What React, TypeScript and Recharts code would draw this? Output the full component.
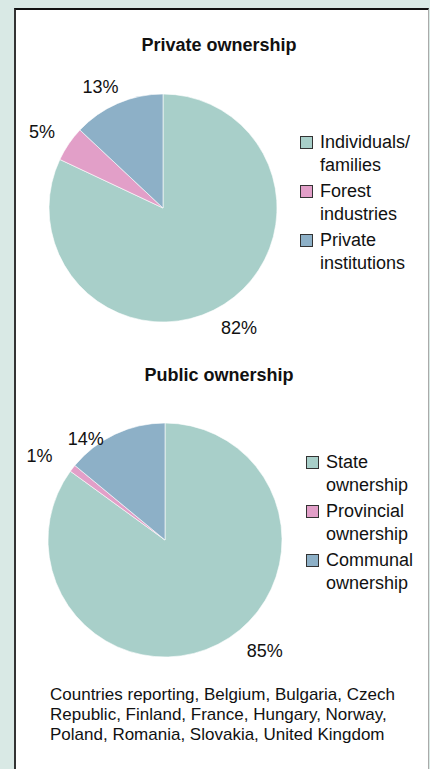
import React from "react";
import { Legend, Pie, PieChart, Cell } from "recharts";

const privateNames = ["Individuals/\nfamilies", "Forest\nindustries", "Private\ninstitutions"];
const privateValues = [82, 5, 13];

const publicNames = ["State\nownership", "Provincial\nownership", "Communal\nownership"];
const publicValues = [85, 1, 14];

const sliceColors = ["#a8cfc9", "#e29fc8", "#8db0c7"];

const footer = [
  "Countries reporting, Belgium, Bulgaria, Czech",
  "Republic, Finland, France, Hungary, Norway,",
  "Poland, Romania, Slovakia, United Kingdom",
];

const FONT = '"Liberation Sans", Arial, Helvetica, sans-serif';
const RAD = Math.PI / 180;

// label placement tweaks per slice: [angle shift in degrees, distance past the rim]
type Nudge = [number, number];

function makeLabel(nudges: Nudge[]) {
  return (props: any) => {
    const { cx, cy, midAngle, outerRadius, index, value } = props;
    const [da, dr] = nudges[index] ?? [0, 26];
    const a = (midAngle + da) * RAD;
    const r = outerRadius + dr;
    return (
      <text
        x={cx + r * Math.cos(a)}
        y={cy - r * Math.sin(a)}
        textAnchor="middle"
        dominantBaseline="central"
        fontSize={18}
        fontFamily={FONT}
        fill="#111"
      >
        {`${value}%`}
      </text>
    );
  };
}

function LegendBox({ payload }: any) {
  return (
    <div style={{ fontFamily: FONT, fontSize: 18, lineHeight: "23px", color: "#111" }}>
      {(payload ?? []).map((p: any, i: number) => (
        <div key={i} style={{ display: "flex", alignItems: "flex-start", marginBottom: 3 }}>
          <span
            style={{
              width: 11,
              height: 11,
              marginTop: 5,
              marginRight: 7,
              border: "1px solid #333",
              background: p.color,
              flex: "none",
            }}
          />
          <span style={{ whiteSpace: "pre-line" }}>{p.value}</span>
        </div>
      ))}
    </div>
  );
}

interface OwnershipPieProps {
  names: string[];
  values: number[];
  top: number;
  height: number;
  cx: number;
  cy: number;
  radius: number;
  legendLeft: number;
  legendTop: number;
  nudges: Nudge[];
}

function OwnershipPie(p: OwnershipPieProps) {
  const data = p.names.map((name, i) => ({ name, value: p.values[i] }));
  const payload = data.map((d, i) => ({ value: d.name, color: sliceColors[i] }));
  return (
    <div style={{ position: "absolute", left: 0, top: p.top }}>
      <PieChart width={430} height={p.height} margin={{ top: 0, right: 0, bottom: 0, left: 0 }}>
        <Pie
          data={data}
          dataKey="value"
          nameKey="name"
          cx={p.cx}
          cy={p.cy}
          outerRadius={p.radius}
          startAngle={90}
          endAngle={-270}
          stroke="#ffffff"
          strokeWidth={0.6}
          label={makeLabel(p.nudges)}
          labelLine={false}
          isAnimationActive={false}
        >
          {data.map((_, i) => (
            <Cell key={i} fill={sliceColors[i]} />
          ))}
        </Pie>
        <Legend
          layout="vertical"
          content={() => <LegendBox payload={payload} />}
          wrapperStyle={{ position: "absolute", left: p.legendLeft, top: p.legendTop, width: 120 }}
        />
      </PieChart>
    </div>
  );
}

export default function App() {
  return (
    <div
      style={{
        position: "absolute",
        left: 0,
        top: 0,
        width: 430,
        height: 769,
        overflow: "hidden",
        background: "#d9e9e5",
        fontFamily: FONT,
      }}
    >
      <div
        style={{
          position: "absolute",
          left: 14,
          top: 8,
          width: 412,
          height: 780,
          background: "#fff",
          borderTop: "2px solid #111",
          borderLeft: "2px solid #333",
          borderRight: "1px solid #aaa",
        }}
      />
      <div
        style={{
          position: "absolute",
          left: 12,
          top: 34,
          width: 414,
          textAlign: "center",
          fontWeight: "bold",
          fontSize: 18,
          lineHeight: "22px",
          color: "#111",
        }}
      >
        Private ownership
      </div>
      <OwnershipPie
        names={privateNames}
        values={privateValues}
        top={0}
        height={350}
        cx={163}
        cy={208}
        radius={114}
        legendLeft={300}
        legendTop={131}
        nudges={[
          [0, 28],
          [2, 29],
          [4, 22],
        ]}
      />
      <div
        style={{
          position: "absolute",
          left: 12,
          top: 364,
          width: 414,
          textAlign: "center",
          fontWeight: "bold",
          fontSize: 18,
          lineHeight: "22px",
          color: "#111",
        }}
      >
        Public ownership
      </div>
      <OwnershipPie
        names={publicNames}
        values={publicValues}
        top={350}
        height={330}
        cx={165}
        cy={190}
        radius={117}
        legendLeft={306}
        legendTop={101}
        nudges={[
          [15, 32],
          [4, 34],
          [13, 11],
        ]}
      />
      <div
        style={{
          position: "absolute",
          left: 50,
          top: 685,
          fontSize: 17,
          lineHeight: "20px",
          color: "#111",
          whiteSpace: "nowrap",
        }}
      >
        {footer.map((line, i) => (
          <div key={i}>{line}</div>
        ))}
      </div>
    </div>
  );
}
